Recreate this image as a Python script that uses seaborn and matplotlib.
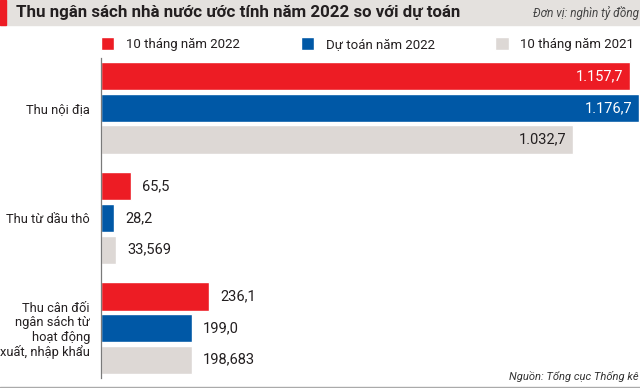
import pandas as pd
import numpy as np
import matplotlib
matplotlib.use("Agg")
import matplotlib.pyplot as plt
from matplotlib.patches import Rectangle
from matplotlib.lines import Line2D
import seaborn as sns

# data
categories = ["Thu nội địa", "Thu từ dầu thô",
              "Thu cân đối\nngân sách từ\nhoạt động\nxuất, nhập khẩu"]
series = ["10 tháng năm 2022", "Dự toán năm 2022", "10 tháng năm 2021"]
thang10_2022 = [1157.7, 65.5, 236.1]
du_toan_2022 = [1176.7, 28.2, 199.0]
thang10_2021 = [1032.7, 33.569, 198.683]
labels_2022 = ["1.157,7", "65,5", "236,1"]
labels_dutoan = ["1.176,7", "28,2", "199,0"]
labels_2021 = ["1.032,7", "33,569", "198,683"]

colors = ["#ED1C24", "#0058A6", "#DDD8D5"]
dark = "#231F20"

sns.set_style("white")
plt.rcParams["font.family"] = ["Roboto", "DejaVu Sans"]

df = pd.DataFrame({
    "category": categories * 3,
    "series": np.repeat(series, 3),
    "value": thang10_2022 + du_toan_2022 + thang10_2021,
})

fig = plt.figure(figsize=(6.4, 3.88), dpi=100)
ax = fig.add_axes([101/640, 10/388, 539/640, 320/388])

sns.barplot(data=df, y="category", x="value", hue="series",
            order=categories, hue_order=series, palette=colors,
            orient="h", width=0.86, gap=0.11, saturation=1, ax=ax)

ax.set_xlim(0, 1179)
ax.set_ylim(2.4545, -0.4545)
ax.set_xlabel("")
ax.set_ylabel("")
ax.set_xticks([])
for s in ["top", "right", "bottom"]:
    ax.spines[s].set_visible(False)
ax.spines["left"].set_color("#7A7A7A")
ax.spines["left"].set_linewidth(0.9)
ax.tick_params(axis="y", length=0, pad=8, labelsize=9.3, labelcolor=dark)
for t in ax.get_yticklabels():
    t.set_linespacing(1.15)

# value labels
all_labels = [labels_2022, labels_dutoan, labels_2021]
vmax = max(du_toan_2022)
for cont, labs, col in zip(ax.containers, all_labels, colors):
    for bar, lab in zip(cont, labs):
        w = bar.get_width()
        yc = bar.get_y() + bar.get_height() / 2
        if w > 0.5 * vmax:
            tc = "white" if col != colors[2] else dark
            ax.annotate(lab, (w, yc), xytext=(-5, 0), textcoords="offset points",
                        ha="right", va="center", fontsize=10.5, color=tc)
        else:
            ax.annotate(lab, (w, yc), xytext=(8, 0), textcoords="offset points",
                        ha="left", va="center", fontsize=10.5, color=dark)

# legend on top
sns.move_legend(ax, "center left", bbox_to_anchor=(0, 1.04375), ncol=3,
                frameon=False, title=None, fontsize=9.5, borderaxespad=0,
                borderpad=0, handlelength=1.0, handleheight=1.2,
                handletextpad=0.9, columnspacing=4.6)
for t in ax.get_legend().get_texts():
    t.set_color(dark)

# title band
fig.add_artist(Rectangle((0, 1 - 25/388), 1, 25/388, transform=fig.transFigure,
                         color="#E4E1DE", zorder=0))
fig.add_artist(Rectangle((0, 1 - 25/388), 6/640, 25/388, transform=fig.transFigure,
                         color="#ED1C24", zorder=1))
fig.text(16/640, 1 - 13/388, "Thu ngân sách nhà nước ước tính năm 2022 so với dự toán",
         fontsize=12.2, fontweight="bold", color=dark, va="center")
fig.text(639/640, 1 - 13/388, "Đơn vị: nghìn tỷ đồng", fontsize=8.5,
         style="italic", color="#444444", va="center", ha="right")

# footer
fig.add_artist(Line2D([0, 1], [1.5/388, 1.5/388], transform=fig.transFigure,
                      color="#AAAAAA", lw=1))
fig.text(639/640, 12/388, "Nguồn: Tổng cục Thống kê", fontsize=8,
         style="italic", color="#333333", va="center", ha="right")

fig.savefig("out.png", dpi=100)
